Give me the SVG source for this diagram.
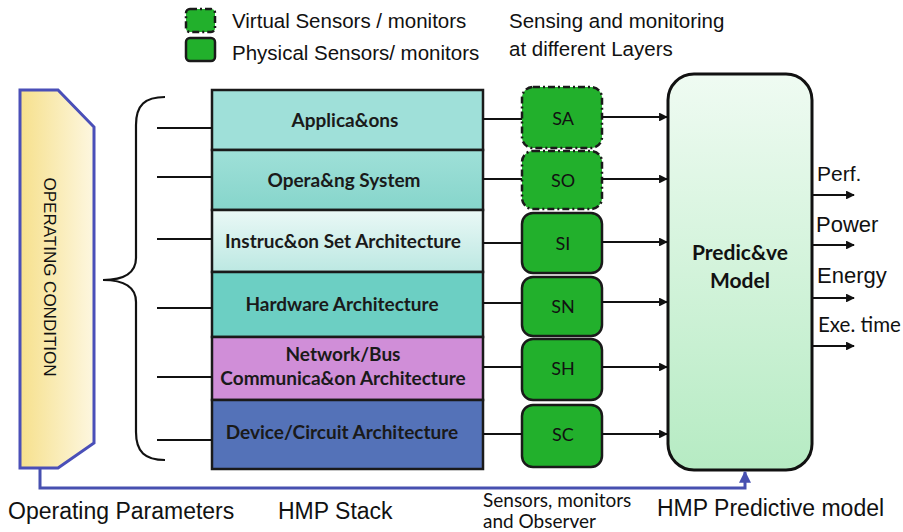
<svg xmlns="http://www.w3.org/2000/svg" width="903" height="532" viewBox="0 0 903 532">
  <style>
    .sans { font-family: "Liberation Sans", Arial, sans-serif; fill: #111; }
    .cal { font-family: Lato, "Open Sans", sans-serif; fill: #111; }
    .layer-label { font-family: Lato, "Open Sans", sans-serif; font-weight: bold; font-size: 19px; fill: #1a1a1a; text-anchor: middle; }
    .layer { stroke: #1a1a1a; stroke-width: 2.5; }
    .sensor { fill: #22b02c; stroke: #1a1a1a; stroke-width: 2.5; }
    .virtual { stroke-dasharray: 7 3 2 3; }
    .sensor-label { font-family: Lato, "Open Sans", sans-serif; font-size: 18px; fill: #111; text-anchor: middle; }
    .wire { stroke: #111; stroke-width: 2.2; fill: none; }
    .arrow { stroke: #111; stroke-width: 2.2; fill: none; marker-end: url(#head); }
  </style>
  <defs>
    <marker id="head" viewBox="0 0 10 10" refX="9" refY="5" markerWidth="4" markerHeight="4" orient="auto" markerUnits="strokeWidth">
      <path d="M0,0 L10,5 L0,10 z" fill="#111"/>
    </marker>
    <marker id="blueHead" viewBox="0 0 10 10" refX="9" refY="5" markerWidth="4" markerHeight="4" orient="auto" markerUnits="strokeWidth">
      <path d="M0,0 L10,5 L0,10 z" fill="#4750b0"/>
    </marker>
    <linearGradient id="condFill" x1="0" y1="0" x2="1" y2="0">
      <stop offset="0" stop-color="#f6e08c"/>
      <stop offset="1" stop-color="#fdf7e0"/>
    </linearGradient>
    <linearGradient id="isaFill" x1="0" y1="0" x2="0" y2="1">
      <stop offset="0" stop-color="#eaf8f6"/>
      <stop offset="1" stop-color="#bce8e2"/>
    </linearGradient>
    <linearGradient id="osFill" x1="0" y1="0" x2="0" y2="1">
      <stop offset="0" stop-color="#9fe0d8"/>
      <stop offset="1" stop-color="#86d5cb"/>
    </linearGradient>
    <linearGradient id="modelFill" x1="0" y1="0" x2="0" y2="1">
      <stop offset="0" stop-color="#effbf2"/>
      <stop offset="1" stop-color="#b6ebc3"/>
    </linearGradient>
  </defs>

  <!-- legend -->
  <g id="legend">
    <rect x="186" y="9" width="29" height="23" rx="4" class="sensor virtual"/>
    <rect x="186" y="38" width="29" height="23" rx="4" class="sensor"/>
    <text x="232" y="28" class="sans" font-size="20.5">Virtual Sensors / monitors</text>
    <text x="232" y="60" class="sans" font-size="20.5">Physical Sensors/ monitors</text>
    <text x="509" y="28" class="sans" font-size="20.5">Sensing and monitoring</text>
    <text x="509" y="56" class="sans" font-size="20.5">at different Layers</text>
  </g>

  <!-- operating condition -->
  <g id="operating-condition">
    <polygon points="20,90 58,90 94,127 94,443 58,468 20,468" fill="url(#condFill)" stroke="#4a4fb8" stroke-width="3"/>
    <text transform="translate(44,277) rotate(90)" class="sans" font-size="17" text-anchor="middle">OPERATING CONDITION</text>
  </g>

  <!-- HMP stack layers -->
  <g id="stack">
    <g id="layer-applications">
      <rect x="212" y="90" width="271" height="60" fill="#9fe0d9" class="layer"/>
      <text x="345" y="127" class="layer-label">Applica&amp;ons</text>
    </g>
    <g id="layer-os">
      <rect x="212" y="150" width="271" height="60" fill="url(#osFill)" class="layer"/>
      <text x="344" y="187" class="layer-label">Opera&amp;ng System</text>
    </g>
    <g id="layer-isa">
      <rect x="212" y="210" width="271" height="62" fill="url(#isaFill)" class="layer"/>
      <text x="343" y="248" class="layer-label">Instruc&amp;on Set Architecture</text>
    </g>
    <g id="layer-hardware">
      <rect x="212" y="272" width="271" height="65" fill="#6ccfc3" class="layer"/>
      <text x="342" y="311" class="layer-label">Hardware Architecture</text>
    </g>
    <g id="layer-network">
      <rect x="212" y="337" width="271" height="63" fill="#d08ed8" class="layer"/>
      <text x="343" y="361" class="layer-label">Network/Bus</text>
      <text x="343" y="385" class="layer-label">Communica&amp;on Architecture</text>
    </g>
    <g id="layer-device">
      <rect x="212" y="400" width="271" height="69" fill="#5472b8" class="layer"/>
      <text x="342" y="439" class="layer-label">Device/Circuit Architecture</text>
    </g>
  </g>

  <!-- sensors -->
  <g id="sensor-SA">
    <rect x="522" y="87" width="80" height="61" rx="11" class="sensor virtual"/>
    <text x="563" y="125" class="sensor-label">SA</text>
  </g>
  <g id="sensor-SO">
    <rect x="522" y="151" width="80" height="58" rx="11" class="sensor virtual"/>
    <text x="563" y="187" class="sensor-label">SO</text>
  </g>
  <g id="sensor-SI">
    <rect x="522" y="213" width="80" height="60" rx="11" class="sensor"/>
    <text x="563" y="250" class="sensor-label">SI</text>
  </g>
  <g id="sensor-SN">
    <rect x="522" y="277" width="80" height="59" rx="11" class="sensor"/>
    <text x="563" y="313" class="sensor-label">SN</text>
  </g>
  <g id="sensor-SH">
    <rect x="522" y="339" width="80" height="61" rx="11" class="sensor"/>
    <text x="563" y="375" class="sensor-label">SH</text>
  </g>
  <g id="sensor-SC">
    <rect x="522" y="405" width="80" height="62" rx="11" class="sensor"/>
    <text x="563" y="441" class="sensor-label">SC</text>
  </g>

  <!-- predictive model -->
  <g id="predictive-model">
    <rect x="668" y="74" width="144" height="396" rx="26" fill="url(#modelFill)" stroke="#111" stroke-width="3"/>
    <text x="740" y="260" class="cal" font-weight="bold" font-size="21" text-anchor="middle">Predic&amp;ve</text>
    <text x="740" y="288" class="cal" font-weight="bold" font-size="21" text-anchor="middle">Model</text>
  </g>

  <!-- connectors -->
  <g id="connectors">
    <!-- brace grouping the layers -->
    <path class="wire" d="M165,97 C145,97 136,105 136,125 L136,258 C136,272 125,280 103,280 C125,280 136,288 136,302 L136,432 C136,452 145,460 165,460"/>
    <!-- operating condition feeds into each layer -->
    <path class="wire" d="M157,128 H212 M157,177 H212 M157,239 H212 M157,308 H212 M157,377 H212 M157,440 H212"/>
    <!-- layers to sensors -->
    <path class="wire" d="M483,119 H522 M483,179 H522 M483,243 H522 M483,303 H522 M483,367 H522 M483,434 H522"/>
    <!-- sensors to predictive model -->
    <path class="arrow" d="M602,117 H667"/>
    <path class="arrow" d="M602,179 H667"/>
    <path class="arrow" d="M602,242 H667"/>
    <path class="arrow" d="M602,302 H667"/>
    <path class="arrow" d="M602,367 H667"/>
    <path class="arrow" d="M602,434 H667"/>
    <!-- model outputs -->
    <path class="arrow" d="M812,195 H854"/>
    <path class="arrow" d="M812,245 H854"/>
    <path class="arrow" d="M812,298 H854"/>
    <path class="arrow" d="M812,346 H854"/>
    <!-- operating parameters path -->
    <path d="M40,468 V488 H745 V472" fill="none" stroke="#4750b0" stroke-width="3" marker-end="url(#blueHead)"/>
  </g>

  <!-- output labels -->
  <g id="outputs">
    <text x="817" y="181" class="sans" font-size="21">Perf.</text>
    <text x="816" y="232" class="sans" font-size="22">Power</text>
    <text x="817" y="283" class="sans" font-size="22">Energy</text>
    <text x="818" y="332" class="cal" font-size="20.5">Exe. time</text>
  </g>

  <!-- captions -->
  <g id="captions">
    <text x="8" y="519" class="sans" font-size="23">Operating Parameters</text>
    <text x="278" y="519" class="sans" font-size="23">HMP Stack</text>
    <text x="483" y="507" class="cal" font-size="19">Sensors, monitors</text>
    <text x="483" y="528" class="cal" font-size="19">and Observer</text>
    <text x="657" y="516" class="sans" font-size="23">HMP Predictive model</text>
  </g>
</svg>
